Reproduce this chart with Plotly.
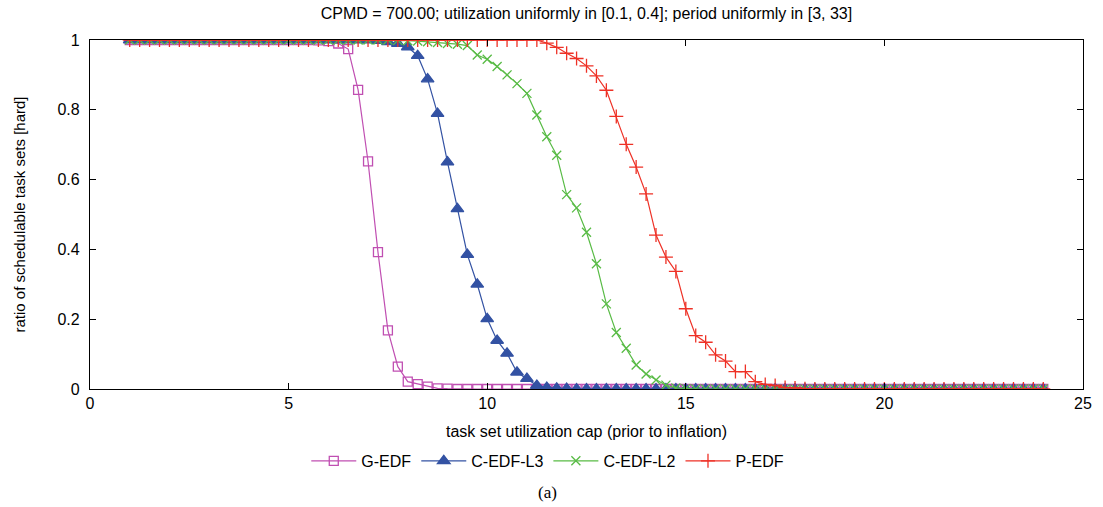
import plotly.graph_objects as go

# utilization cap grid: 1.0 .. 24.0 in steps of 0.25
util_cap = [1 + 0.25 * i for i in range(93)]

g_edf = [
    1.0, 1.0, 1.0, 1.0, 1.0, 1.0, 1.0, 1.0, 1.0, 1.0,
    1.0, 1.0, 1.0, 1.0, 1.0, 1.0, 1.0, 1.0, 1.0,
    0.999, 0.997, 0.99, 0.974, 0.857, 0.652, 0.392, 0.168, 0.064, 0.021,
    0.014, 0.007, 0.002, 0.001,
    0, 0, 0, 0, 0, 0, 0, 0, 0, 0, 0, 0, 0, 0, 0, 0, 0, 0, 0, 0,
    0, 0, 0, 0, 0, 0, 0, 0, 0, 0, 0, 0, 0, 0, 0, 0, 0, 0, 0, 0,
    0, 0, 0, 0, 0, 0, 0, 0, 0, 0, 0, 0, 0, 0, 0, 0, 0, 0, 0, 0,
]

c_edf_l3 = [
    1.0, 1.0, 1.0, 1.0, 1.0, 1.0, 1.0, 1.0, 1.0, 1.0,
    1.0, 1.0, 1.0, 1.0, 1.0, 1.0, 1.0, 1.0, 1.0, 1.0,
    1.0, 1.0, 1.0, 1.0, 1.0,
    0.998, 0.995, 0.99, 0.98, 0.955, 0.888, 0.789, 0.65, 0.516, 0.385,
    0.30, 0.201, 0.139, 0.102, 0.048, 0.030, 0.010, 0.004, 0.002, 0.001,
    0, 0, 0, 0, 0, 0, 0, 0, 0, 0, 0, 0, 0, 0, 0, 0,
    0, 0, 0, 0, 0, 0, 0, 0, 0, 0, 0, 0, 0, 0, 0, 0,
    0, 0, 0, 0, 0, 0, 0, 0, 0, 0, 0, 0, 0, 0, 0, 0,
]

c_edf_l2 = [
    1.0, 1.0, 1.0, 1.0, 1.0, 1.0, 1.0, 1.0, 1.0, 1.0,
    1.0, 1.0, 1.0, 1.0, 1.0, 1.0, 1.0, 1.0, 1.0, 1.0,
    1.0, 1.0, 1.0, 1.0, 1.0, 1.0, 1.0,
    0.999, 0.998, 0.997, 0.995, 0.993, 0.99, 0.988, 0.984, 0.957, 0.945,
    0.924, 0.90, 0.875, 0.847, 0.785, 0.723, 0.67, 0.557, 0.519, 0.449,
    0.359, 0.244, 0.162, 0.117, 0.069, 0.043, 0.026, 0.011, 0.003, 0.001,
    0, 0, 0, 0, 0, 0, 0, 0, 0, 0, 0, 0,
    0, 0, 0, 0, 0, 0, 0, 0, 0, 0, 0, 0,
    0, 0, 0, 0, 0, 0, 0, 0, 0, 0, 0, 0,
]

p_edf = [
    1.0, 1.0, 1.0, 1.0, 1.0, 1.0, 1.0, 1.0, 1.0, 1.0,
    1.0, 1.0, 1.0, 1.0, 1.0, 1.0, 1.0, 1.0, 1.0, 1.0,
    1.0, 1.0, 1.0, 1.0, 1.0, 1.0, 1.0, 1.0, 1.0, 1.0,
    1.0, 1.0, 1.0, 1.0, 1.0, 1.0, 1.0, 1.0, 1.0, 1.0,
    1.0, 1.0,
    0.991, 0.979, 0.962, 0.947, 0.926, 0.897, 0.856, 0.781, 0.701,
    0.636, 0.559, 0.441, 0.378, 0.337, 0.23, 0.153, 0.134, 0.098,
    0.08, 0.05, 0.05, 0.021, 0.013, 0.01, 0.004, 0.003, 0.001,
    0, 0, 0, 0, 0, 0, 0, 0, 0, 0, 0, 0,
    0, 0, 0, 0, 0, 0, 0, 0, 0, 0, 0, 0,
]

x_ticks = [0, 5, 10, 15, 20, 25]
y_ticks = [0, 0.2, 0.4, 0.6, 0.8, 1]
y_tick_labels = ["0", "0.2", "0.4", "0.6", "0.8", "1"]

series = [
    ("G-EDF", g_edf, "#c04fb2", "square-open", 9),
    ("C-EDF-L3", c_edf_l3, "#3352a3", "triangle-up", 11),
    ("C-EDF-L2", c_edf_l2, "#58bb45", "x-thin-open", 9),
    ("P-EDF", p_edf, "#ee3126", "cross-thin-open", 10),
]

fig = go.Figure()
for name, vals, color, symbol, size in series:
    fig.add_trace(go.Scatter(
        x=util_cap, y=vals, mode="lines+markers", name=name,
        line=dict(color=color, width=1.2),
        marker=dict(symbol=symbol, size=size, color=color,
                    line=dict(color=color, width=1.3)),
    ))

font = "Liberation Sans, Arial, sans-serif"
axis_common = dict(
    showline=True, linecolor="black", linewidth=1.3, mirror="ticks",
    ticks="inside", ticklen=6, tickcolor="black", tickwidth=1,
    showgrid=False, zeroline=False,
    tickfont=dict(family=font, size=16, color="black"),
)

fig.update_layout(
    width=1103, height=507,
    paper_bgcolor="white", plot_bgcolor="white",
    margin=dict(l=90, r=20, t=40, b=118),
    title=dict(
        text="CPMD = 700.00; utilization uniformly in [0.1, 0.4]; period uniformly in [3, 33]",
        x=(90 + 1083) / 2 / 1103, xanchor="center", y=0.973, yanchor="middle",
        font=dict(family=font, size=16, color="black"),
    ),
    xaxis=dict(range=[0, 25], tickvals=x_ticks,
               title=dict(text="task set utilization cap (prior to inflation)",
                          font=dict(family=font, size=16, color="black"), standoff=14),
               **axis_common),
    yaxis=dict(range=[0, 1], tickvals=y_ticks, ticktext=y_tick_labels,
               ticklabelstandoff=6,
               title=dict(text="ratio of schedulable task sets [hard]",
                          font=dict(family=font, size=15, color="black"), standoff=28),
               **axis_common),
    legend=dict(orientation="h", x=0.461, xanchor="center", y=-0.206, yanchor="middle",
                font=dict(family=font, size=16, color="black"),
                itemwidth=45, bgcolor="rgba(0,0,0,0)"),
    annotations=[dict(
        text="(a)", xref="paper", yref="paper", x=0.461, y=-0.297,
        xanchor="center", yanchor="middle", showarrow=False,
        font=dict(family="Liberation Serif, Times New Roman, serif", size=17, color="black"),
    )],
)

# drop the default 8px page margin so the figure sits at the window origin
fig.write_html("out.html", config={"displayModeBar": False},
               post_script="document.body.style.margin='0';")
